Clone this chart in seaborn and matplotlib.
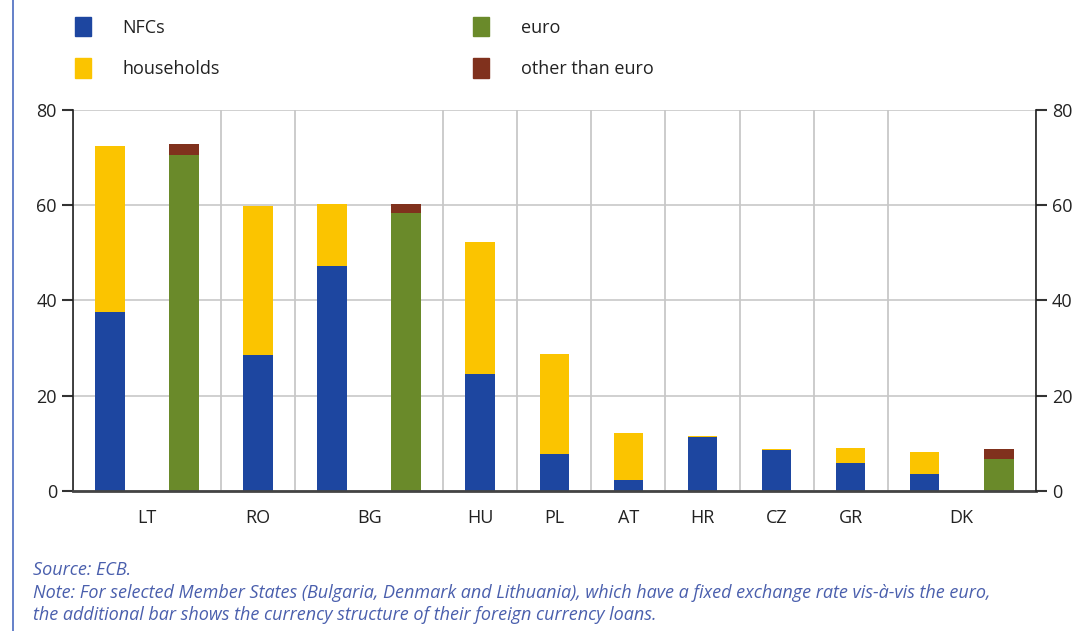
import matplotlib
matplotlib.use("Agg")
import matplotlib.pyplot as plt
from matplotlib.patches import Patch
from matplotlib.lines import Line2D
import pandas as pd
import seaborn as sns

# values (% of loans)
countries = ["LT", "RO", "BG", "HU", "PL", "AT", "HR", "CZ", "GR", "DK"]
nfcs = [37.6, 28.6, 47.2, 24.6, 7.8, 2.3, 11.3, 8.5, 5.8, 3.6]
households = [34.8, 31.2, 13.1, 27.7, 21.0, 9.9, 0.2, 0.2, 3.2, 4.6]
fixed_rate = ["LT", "BG", "DK"]
euro = [70.5, 58.4, 6.8]
other_than_euro = [2.4, 1.9, 2.0]

BLUE = "#1d46a0"
YELLOW = "#fbc400"
GREEN = "#6a8a2a"
BROWN = "#80311d"
NOTE = "#4a5fad"

# one slot per bar; fixed-rate countries get an extra slot for the currency bar
rows = []
label_pos = []
bounds = [-0.5]
slot = 0
for i, c in enumerate(countries):
    rows.append({"slot": slot, "low": nfcs[i], "top": nfcs[i] + households[i],
                 "low_c": GREEN, "top_c": YELLOW})
    start = slot
    slot += 1
    if c in fixed_rate:
        j = fixed_rate.index(c)
        rows.append({"slot": slot, "low": euro[j], "top": euro[j] + other_than_euro[j],
                     "low_c": GREEN, "top_c": BROWN})
        slot += 1
    label_pos.append((start + slot - 1) / 2)
    bounds.append(slot - 0.5)
df = pd.DataFrame(rows)
sector = df["top_c"] == YELLOW

sns.set_style("white")
plt.rcParams["font.family"] = ["Open Sans", "DejaVu Sans"]

fig = plt.figure(figsize=(10.88, 6.31), dpi=100)
ax = fig.add_axes([0.067, 0.222, 0.885, 0.604])

order = list(range(len(df)))
# stacked bars: draw totals first, lower segment over them
sns.barplot(data=df[sector], x="slot", y="top", order=order, color=YELLOW,
            width=0.4, ax=ax, saturation=1, linewidth=0)
sns.barplot(data=df[~sector], x="slot", y="top", order=order, color=BROWN,
            width=0.4, ax=ax, saturation=1, linewidth=0)
sns.barplot(data=df[sector], x="slot", y="low", order=order, color=BLUE,
            width=0.4, ax=ax, saturation=1, linewidth=0)
sns.barplot(data=df[~sector], x="slot", y="low", order=order, color=GREEN,
            width=0.4, ax=ax, saturation=1, linewidth=0)

ax.set_xlim(-0.5, len(df) - 0.5)
ax.set_ylim(0, 80)
ax.set_yticks([0, 20, 40, 60, 80])
ax.set_xlabel("")
ax.set_ylabel("")

# group separators as minor ticks / vertical grid
ax.set_xticks(bounds, minor=True)
ax.set_xticks(label_pos)
ax.set_xticklabels(countries)
ax.tick_params(axis="x", which="major", length=0, labelsize=13, pad=13, colors="#222222")
ax.tick_params(axis="x", which="minor", length=9, width=1.5, color="#333333", direction="out")
ax.tick_params(axis="y", length=8, width=1.5, color="#333333", labelsize=13, labelcolor="#222222")
ax.grid(axis="x", which="minor", color="#c4c4c4", linewidth=1.2)
ax.grid(axis="y", which="major", color="#c8c8c8", linewidth=1.2)
ax.set_axisbelow(True)

ax.spines["top"].set_visible(False)
ax.spines["left"].set_color("#222222")
ax.spines["left"].set_linewidth(1.2)
ax.spines["right"].set_visible(False)
ax.spines["bottom"].set_color("#444444")
ax.spines["bottom"].set_linewidth(2)

ax2 = ax.twinx()
ax2.set_ylim(0, 80)
ax2.set_yticks([0, 20, 40, 60, 80])
ax2.tick_params(axis="y", length=8, width=1.5, color="#333333", labelsize=13, labelcolor="#222222")
for s in ["top", "left", "bottom"]:
    ax2.spines[s].set_visible(False)
ax2.spines["right"].set_color("#222222")
ax2.spines["right"].set_linewidth(1.2)

leg_kw = dict(frameon=False, fontsize=13, handlelength=0.9, handleheight=1.3,
              handletextpad=1.75, labelspacing=1.2, borderaxespad=0, labelcolor="#222222")
fig.legend(handles=[Patch(color=BLUE, label="NFCs"), Patch(color=YELLOW, label="households")],
           loc="upper left", bbox_to_anchor=(0.062, 0.985), **leg_kw)
fig.legend(handles=[Patch(color=GREEN, label="euro"), Patch(color=BROWN, label="other than euro")],
           loc="upper left", bbox_to_anchor=(0.428, 0.985), **leg_kw)

fig.add_artist(Line2D([0.012, 0.012], [0, 1], color="#4a6bc0", linewidth=1.2))

fig.text(0.030, 0.089, "Source: ECB.", fontsize=13, style="italic", color=NOTE)
fig.text(0.030, 0.052, "Note: For selected Member States (Bulgaria, Denmark and Lithuania), which have a fixed "
         "exchange rate vis-à-vis the euro,", fontsize=13, style="italic", color=NOTE)
fig.text(0.030, 0.017, "the additional bar shows the currency structure of their foreign currency loans.",
         fontsize=13, style="italic", color=NOTE)

fig.savefig("out.png", dpi=100)
